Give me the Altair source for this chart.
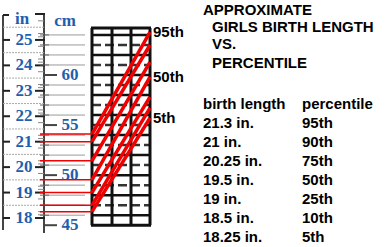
import altair as alt
import pandas as pd

W, H = 389, 247
# vertical extent of the drawing, in inches of length
Y_LO, Y_HI = 16.86, 26.57

# birth length table
birth_length_in = [21.3, 21.0, 20.25, 19.5, 19.0, 18.5, 18.25]
birth_length_text = ["21.3 in.", "21 in.", "20.25 in.", "19.5 in.", "19 in.", "18.5 in.", "18.25 in."]
percentile_text = ["95th", "90th", "75th", "50th", "25th", "10th", "5th"]
# length each percentile curve reaches at the right edge of the grid
length_at_grid_edge_in = [25.31, 24.80, 24.13, 23.55, 22.76, 22.33, 21.93]
labelled_curves = ["95th", "50th", "5th"]

# ruler scales
inch_marks = [18, 19, 20, 21, 22, 23, 24, 25]
cm_marks = [45, 50, 55, 60]

title_lines = ["APPROXIMATE", "GIRLS BIRTH LENGTH", "VS.", "PERCENTILE"]

BLUE = "#1f5fae"
RED = "#f00000"
CM = 1 / 2.54


def xpx(field):
    return alt.X(f"{field}:Q", scale=alt.Scale(domain=[0, W], nice=False, zero=False), axis=None)


def ypx(field):
    return alt.Y(f"{field}:Q", scale=alt.Scale(domain=[0, H], range=[0, H], nice=False, zero=False), axis=None)


def yin(field):
    return alt.Y(f"{field}:Q", scale=alt.Scale(domain=[Y_LO, Y_HI], nice=False, zero=False), axis=None)


def hrules(rows, **style):
    df = pd.DataFrame(rows, columns=["x0", "x1", "y"])
    return alt.Chart(df).mark_rule(**style).encode(x=xpx("x0"), x2="x1", y=yin("y"))


def vrules(rows, **style):
    df = pd.DataFrame(rows, columns=["x", "y0", "y1"])
    return alt.Chart(df).mark_rule(**style).encode(x=xpx("x"), y=yin("y0"), y2="y1")


layers = []

# ---- ruler -------------------------------------------------------------
layers.append(vrules([(3, 25.98, 17.53), (44, 26.06, 17.41)], color="#444", strokeWidth=2))
layers.append(hrules([(v + 0.5, v + 0.5, 0) for v in []] or
                     [(3, 45, v + 0.5) for v in inch_marks], color="#aaa", strokeWidth=1,
                     strokeDash=[2, 1]))
layers.append(hrules([(38, 44, v + q) for v in inch_marks for q in (0.25, 0.75)] +
                     [(38, 44, v + 0.125) for v in inch_marks],
                     color="#888", strokeWidth=1))
layers.append(hrules([(3, 10, v) for v in inch_marks] + [(35, 45, v) for v in inch_marks] +
                     [(3, 9, 25.98), (35, 45, 26.02)],
                     color="#222", strokeWidth=2))
cm_lines = [c for c in range(46, 66) if c % 5]
layers.append(hrules([(45, 85, c * CM) for c in cm_lines], color="#9a9a9a", strokeWidth=1))
layers.append(hrules([(40, 49, c * CM) for c in cm_lines], color="#666", strokeWidth=1))
layers.append(hrules([(44, 57, c * CM) for c in cm_marks], color="#444", strokeWidth=2))

inch_df = pd.DataFrame({"v": inch_marks, "t": [str(v) for v in inch_marks]})
layers.append(alt.Chart(inch_df).mark_text(
    font="Liberation Serif", fontWeight="bold", fontSize=17, color=BLUE,
    align="center", baseline="middle").encode(x=alt.value(24), y=yin("v"), text="t:N"))
cm_df = pd.DataFrame({"v": [c * CM for c in cm_marks], "t": [str(c) for c in cm_marks]})
layers.append(alt.Chart(cm_df).mark_text(
    font="Liberation Serif", fontWeight="bold", fontSize=17, color=BLUE,
    align="center", baseline="middle").encode(x=alt.value(70), y=yin("v"), text="t:N"))
unit_df = pd.DataFrame({"x": [22, 65], "y": [19, 21], "t": ["in", "cm"]})
layers.append(alt.Chart(unit_df).mark_text(
    font="Liberation Serif", fontWeight="bold", fontSize=17, color=BLUE,
    align="center", baseline="middle").encode(x=xpx("x"), y=ypx("y"), text="t:N"))

# ---- growth grid ---------------------------------------------------------
grid_top = 25.47
grid_bottom = 45 * CM
rows = list(range(46, 65))
layers.append(hrules([(92, 150, c * CM) for c in rows if c % 2 == 0],
                     color="#111", strokeWidth=2.5))
layers.append(hrules([(92, 150, c * CM) for c in rows if c % 2 == 1],
                     color="#333", strokeWidth=2.5, strokeDash=[9, 4]))
layers.append(hrules([(91, 151, grid_top), (91, 151, grid_bottom)], color="#111", strokeWidth=3))
layers.append(vrules([(92, grid_top, grid_bottom), (112, grid_top, grid_bottom),
                      (131, grid_top, grid_bottom), (150, grid_top, grid_bottom)],
                     color="#111", strokeWidth=3))

# ---- birth length markers and percentile curves ---------------------------
layers.append(hrules([(40, 92, v) for v in birth_length_in], color=RED, strokeWidth=1.5))

curves = pd.DataFrame(
    [{"pct": p, "age": 0, "len": a} for p, a in zip(percentile_text, birth_length_in)] +
    [{"pct": p, "age": 3, "len": b} for p, b in zip(percentile_text, length_at_grid_edge_in)]
)
layers.append(alt.Chart(curves).mark_line(color=RED, strokeWidth=3.5).encode(
    x=alt.X("age:Q", scale=alt.Scale(domain=[0, 3], range=[92, 150], nice=False, zero=False), axis=None),
    y=yin("len"), detail="pct:N"))

end_df = pd.DataFrame({"p": percentile_text, "v": length_at_grid_edge_in})
end_df = end_df[end_df["p"].isin(labelled_curves)]
layers.append(alt.Chart(end_df).mark_text(
    font="Liberation Sans", fontWeight="bold", fontSize=15, color="black",
    align="left", baseline="middle").encode(x=alt.value(153), y=yin("v"), text="p:N"))

# ---- title and table -----------------------------------------------------
title_df = pd.DataFrame({"t": title_lines, "x": [203, 212, 212, 212], "y": [10, 27, 44, 63]})
layers.append(alt.Chart(title_df).mark_text(
    font="Liberation Sans", fontWeight="bold", fontSize=15, color="black",
    align="left", baseline="middle").encode(x=xpx("x"), y=ypx("y"), text="t:N"))

head_df = pd.DataFrame({"t": ["birth length", "percentile"], "x": [203, 302], "y": [104, 104]})
layers.append(alt.Chart(head_df).mark_text(
    font="Liberation Sans", fontWeight="bold", fontSize=15, color="black",
    align="left", baseline="middle").encode(x=xpx("x"), y=ypx("y"), text="t:N"))

table = pd.DataFrame({"i": list(range(len(birth_length_text))),
                      "len": birth_length_text, "pct": percentile_text})
row_y = alt.Y("i:Q", scale=alt.Scale(domain=[0, 6], range=[123, 237], nice=False, zero=False), axis=None)
layers.append(alt.Chart(table).mark_text(
    font="Liberation Sans", fontWeight="bold", fontSize=15, color="black",
    align="left", baseline="middle").encode(x=alt.value(203), y=row_y, text="len:N"))
layers.append(alt.Chart(table).mark_text(
    font="Liberation Sans", fontWeight="bold", fontSize=15, color="black",
    align="left", baseline="middle").encode(x=alt.value(302), y=row_y, text="pct:N"))

chart = (
    alt.layer(*layers)
    .resolve_scale(x="independent", y="independent")
    .properties(width=W, height=H, padding=0, autosize="none", background="white")
    .configure_view(stroke=None)
)

chart.save("out.html", embed_options={"renderer": "svg", "actions": False})
